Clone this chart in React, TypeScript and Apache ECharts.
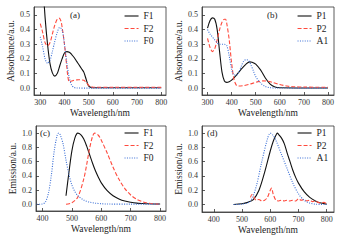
import React, { useEffect, useRef } from "react";
import * as echarts from "echarts";

// Panel (a) absorbance
const aF1X = [300, 310, 320, 330, 340, 350, 360, 370, 380, 390, 400, 410, 420, 430, 440, 450, 460, 470, 480, 490, 500, 510, 520, 600, 700, 800];
const aF1Y = [0.95, 0.72, 0.48, 0.3, 0.17, 0.105, 0.083, 0.1, 0.15, 0.2, 0.24, 0.25, 0.245, 0.23, 0.21, 0.185, 0.16, 0.135, 0.11, 0.06, 0.015, 0.005, 0.003, 0.003, 0.003, 0.003];
const aF2X = [300, 310, 320, 330, 340, 350, 360, 370, 378, 385, 390, 400, 410, 415, 420, 430, 440, 450, 460, 470, 480, 490, 500, 510, 520, 600, 700, 800];
const aF2Y = [0.44, 0.38, 0.31, 0.29, 0.31, 0.37, 0.43, 0.47, 0.478, 0.46, 0.42, 0.3, 0.14, 0.07, 0.045, 0.05, 0.055, 0.057, 0.058, 0.057, 0.055, 0.04, 0.02, 0.01, 0.007, 0.006, 0.006, 0.006];
const aF0X = [300, 310, 320, 330, 340, 350, 360, 370, 380, 390, 400, 410, 420, 430, 440, 450, 500, 600, 700, 800];
const aF0Y = [0.35, 0.28, 0.2, 0.17, 0.19, 0.25, 0.32, 0.38, 0.415, 0.4, 0.3, 0.17, 0.07, 0.02, 0.005, 0.002, 0.001, 0.001, 0.001, 0.001];

// Panel (b) absorbance
const bP1X = [300, 310, 320, 330, 340, 350, 360, 370, 380, 390, 400, 420, 440, 460, 475, 485, 500, 520, 540, 560, 580, 600, 700, 800];
const bP1Y = [0.41, 0.46, 0.48, 0.47, 0.4, 0.25, 0.11, 0.05, 0.04, 0.045, 0.055, 0.09, 0.13, 0.165, 0.18, 0.178, 0.165, 0.125, 0.07, 0.028, 0.008, 0.003, 0.002, 0.002];
const bP2X = [300, 310, 320, 330, 340, 350, 360, 370, 375, 380, 390, 400, 410, 420, 430, 450, 470, 490, 510, 530, 550, 570, 600, 630, 660, 700, 800];
const bP2Y = [0.34, 0.28, 0.25, 0.27, 0.33, 0.4, 0.45, 0.47, 0.47, 0.44, 0.33, 0.17, 0.06, 0.02, 0.015, 0.018, 0.025, 0.035, 0.045, 0.05, 0.048, 0.04, 0.025, 0.015, 0.01, 0.008, 0.006];
const bA1X = [300, 310, 320, 330, 340, 350, 360, 370, 380, 390, 400, 410, 420, 430, 440, 450, 460, 470, 480, 490, 500, 520, 540, 560, 580, 700, 800];
const bA1Y = [0.4, 0.37, 0.35, 0.33, 0.31, 0.3, 0.3, 0.3, 0.29, 0.22, 0.13, 0.09, 0.09, 0.11, 0.15, 0.185, 0.195, 0.19, 0.16, 0.12, 0.08, 0.035, 0.012, 0.004, 0.002, 0.001, 0.001];

// Panel (c) emission
const cF1X = [480, 490, 500, 510, 520, 530, 540, 550, 560, 570, 580, 590, 600, 620, 640, 660, 680, 700, 720, 740, 760, 780, 800];
const cF1Y = [0.12, 0.45, 0.75, 0.93, 1.0, 0.98, 0.92, 0.82, 0.7, 0.58, 0.47, 0.38, 0.3, 0.19, 0.12, 0.075, 0.045, 0.028, 0.016, 0.01, 0.006, 0.004, 0.003];
const cF2X = [480, 500, 520, 540, 550, 560, 570, 577, 590, 600, 620, 640, 660, 680, 700, 720, 740, 760, 780, 800];
const cF2Y = [0.0, 0.02, 0.1, 0.35, 0.55, 0.78, 0.95, 1.0, 0.97, 0.9, 0.72, 0.52, 0.35, 0.22, 0.13, 0.07, 0.035, 0.015, 0.005, 0.002];
const cF0X = [380, 400, 410, 420, 430, 440, 450, 455, 460, 470, 480, 490, 500, 510, 520, 540, 560, 580, 600, 620, 700, 800];
const cF0Y = [0.0, 0.003, 0.03, 0.15, 0.4, 0.75, 0.97, 1.0, 0.98, 0.85, 0.62, 0.42, 0.27, 0.18, 0.12, 0.06, 0.03, 0.015, 0.007, 0.003, 0.001, 0.001];

// Panel (d) emission
const dP1X = [470, 500, 520, 540, 560, 580, 600, 610, 620, 625, 630, 640, 650, 660, 670, 680, 690, 700, 720, 740, 760, 780, 800];
const dP1Y = [0.0, 0.01, 0.03, 0.07, 0.2, 0.45, 0.75, 0.88, 0.97, 1.0, 0.98, 0.93, 0.85, 0.72, 0.6, 0.48, 0.38, 0.3, 0.18, 0.1, 0.05, 0.02, 0.005];
const dP2X = [530, 535, 540, 550, 560, 570, 580, 590, 600, 605, 610, 620, 630, 640, 650, 660, 670, 680, 690, 700, 710, 720, 730, 740, 750, 760, 770, 780, 790, 800];
const dP2Y = [0.1, 0.14, 0.12, 0.06, 0.07, 0.05, 0.06, 0.1, 0.2, 0.23, 0.15, 0.06, 0.05, 0.06, 0.05, 0.06, 0.05, 0.06, 0.05, 0.08, 0.06, 0.07, 0.05, 0.06, 0.04, 0.05, 0.03, 0.02, 0.03, 0.01];
const dA1X = [470, 500, 530, 550, 570, 590, 600, 610, 620, 640, 660, 680, 700, 720, 740, 760, 800];
const dA1Y = [0.0, 0.005, 0.05, 0.25, 0.6, 0.92, 1.0, 0.97, 0.9, 0.7, 0.5, 0.3, 0.15, 0.06, 0.02, 0.005, 0.0];

const absTicks = [0, 0.1, 0.2, 0.3, 0.4, 0.5];
const emTicks = [0, 0.2, 0.4, 0.6, 0.8, 1.0];
const absXTicks = [300, 400, 500, 600, 700, 800];
const emXTicks = [400, 500, 600, 700, 800];

const FONT = "Liberation Serif";
const BLACK = "#111111";
const RED = "#ff4a3d";
const BLUE = "#3b6fd6";

export default function App() {
  const ref = useRef<HTMLDivElement>(null);
  useEffect(() => {
    const chart = echarts.init(ref.current!, null, { renderer: "svg" });

    const grids = [
      { left: 34, top: 7, width: 132, height: 88 },
      { left: 202, top: 7, width: 132, height: 88 },
      { left: 36, top: 126, width: 130, height: 85 },
      { left: 202, top: 126, width: 132, height: 86 },
    ].map((g) => ({ ...g, show: true, borderColor: "#333", borderWidth: 0.8, outerBoundsMode: "none" }));

    const xr = [
      [274, 820, absXTicks],
      [277, 825, absXTicks],
      [378, 820, emXTicks],
      [358, 826, emXTicks],
    ] as const;
    const yr = [
      [-0.046, 0.554, absTicks, "Absorbance/a.u."],
      [-0.046, 0.554, absTicks, "Absorbance/a.u."],
      [-0.095, 1.1, emTicks, "Emission/a.u."],
      [-0.105, 1.1, emTicks, "Emission/a.u."],
    ] as const;

    const xAxis = xr.map(([min, max, ticks], i) => ({
      type: "value",
      gridIndex: i,
      min,
      max,
      name: "Wavelength/nm",
      nameLocation: "middle",
      nameGap: 13,
      nameTextStyle: { fontFamily: FONT, fontSize: 9.5, color: "#222" },
      axisLine: { show: true, onZero: false, lineStyle: { color: "#333", width: 0.8 } },
      axisTick: { show: true, inside: true, length: 3, customValues: ticks as any, lineStyle: { color: "#333", width: 0.8 } },
      axisLabel: { customValues: ticks as any, margin: 3, fontFamily: FONT, fontSize: 8, color: "#333" },
      splitLine: { show: false },
    }));
    const yAxis = yr.map(([min, max, ticks, name], i) => ({
      type: "value",
      gridIndex: i,
      min,
      max,
      name,
      nameLocation: "middle",
      nameGap: 17,
      nameTextStyle: { fontFamily: FONT, fontSize: 9.5, color: "#222" },
      axisLine: { show: true, onZero: false, lineStyle: { color: "#333", width: 0.8 } },
      axisTick: { show: true, inside: true, length: 3, customValues: ticks as any, lineStyle: { color: "#333", width: 0.8 } },
      axisLabel: {
        customValues: ticks as any,
        margin: 4,
        fontFamily: FONT,
        fontSize: 8,
        color: "#333",
        formatter: (v: number) => v.toFixed(1),
      },
      splitLine: { show: false },
    }));

    const mk = (name: string, gi: number, xs: number[], ys: number[], color: string, type: any) => ({
      type: "line",
      name,
      xAxisIndex: gi,
      yAxisIndex: gi,
      data: xs.map((x, k) => [x, ys[k]]),
      symbol: "none",
      smooth: 0.3,
      clip: true,
      lineStyle: { color, width: 1.1, type },
      itemStyle: { color },
    });

    const dash = [4, 2];
    const dot = [1, 1.4];
    const series = [
      mk("F1_a", 0, aF1X, aF1Y, BLACK, "solid"),
      mk("F2_a", 0, aF2X, aF2Y, RED, dash),
      mk("F0_a", 0, aF0X, aF0Y, BLUE, dot),
      mk("P1_b", 1, bP1X, bP1Y, BLACK, "solid"),
      mk("P2_b", 1, bP2X, bP2Y, RED, dash),
      mk("A1_b", 1, bA1X, bA1Y, BLUE, dot),
      mk("F1_c", 2, cF1X, cF1Y, BLACK, "solid"),
      mk("F2_c", 2, cF2X, cF2Y, RED, dash),
      mk("F0_c", 2, cF0X, cF0Y, BLUE, dot),
      mk("P1_d", 3, dP1X, dP1Y, BLACK, "solid"),
      mk("P2_d", 3, dP2X, dP2Y, RED, dash),
      mk("A1_d", 3, dA1X, dA1Y, BLUE, dot),
    ];

    const leg = (names: string[], left: number, top: number) => ({
      orient: "vertical",
      left,
      top,
      padding: 0,
      itemWidth: 14,
      itemHeight: 8,
      itemGap: 2.5,
      data: names,
      itemStyle: { opacity: 0 },
      lineStyle: { width: 1.1 },
      formatter: (n: string) => n.split("_")[0],
      textStyle: { fontFamily: FONT, fontSize: 9.5, lineHeight: 10, color: "#222", padding: [0, 0, 0, 0] },
      selectedMode: false,
    });

    const panelLabel = (t: string, x: number, y: number) => ({
      type: "text",
      left: x,
      top: y,
      style: { text: t, fontFamily: FONT, fontSize: 9, fill: "#222" },
    });

    chart.setOption({
      animation: false,
      backgroundColor: "#fff",
      grid: grids,
      xAxis,
      yAxis,
      series,
      legend: [
        leg(["F1_a", "F2_a", "F0_a"], 124, 11),
        leg(["P1_b", "P2_b", "A1_b"], 297, 11),
        leg(["F1_c", "F2_c", "F0_c"], 124, 128),
        leg(["P1_d", "P2_d", "A1_d"], 297, 128),
      ],
      graphic: [
        panelLabel("(a)", 70, 10),
        panelLabel("(b)", 267, 10),
        panelLabel("(c)", 40, 128),
        panelLabel("(d)", 207, 128),
      ],
    } as any);
    return () => chart.dispose();
  }, []);
  return (
    <div
      ref={ref}
      style={{ position: "fixed", left: 0, top: 0, width: 343, height: 242, background: "#fff" }}
    />
  );
}
